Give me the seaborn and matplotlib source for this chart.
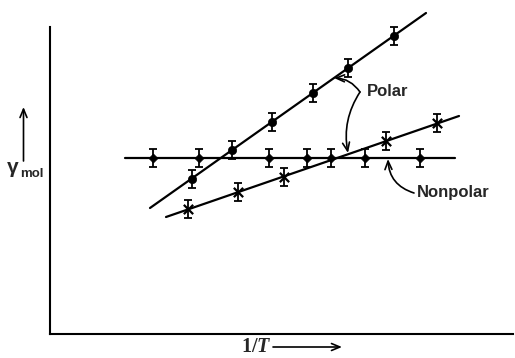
import matplotlib
matplotlib.use("Agg")
import numpy as np
import pandas as pd
import seaborn as sns
import matplotlib.pyplot as plt
from matplotlib.patches import FancyArrowPatch

# ---- data (arbitrary units) ----
nonpolar_x = [103, 149, 219, 257, 281, 315, 370]
nonpolar_y = [176, 176, 176, 176, 176, 176, 176]
nonpolar_line_x = [75, 405]
nonpolar_line_y = [176, 176]

polar_a_x = [142, 182, 222, 263, 298, 344]
polar_a_y = [155, 184, 212, 241, 266, 298]
polar_a_line_x = [100, 376]
polar_a_line_y = [126, 321]

polar_b_x = [138, 188, 234, 336, 387]
polar_b_y = [125, 142, 157, 193, 211]
polar_b_line_x = [116, 409]
polar_b_line_y = [117, 218]

err = 9

sns.set_style("white")
plt.rcParams['font.family'] = ['Liberation Sans', 'DejaVu Sans']
plt.rcParams['mathtext.fontset'] = 'custom'
plt.rcParams['mathtext.rm'] = 'Liberation Serif:bold'
plt.rcParams['mathtext.it'] = 'Liberation Serif:italic:bold'

W, H = 515, 358
fig = plt.figure(figsize=(W / 100, H / 100), dpi=100)
ax = fig.add_axes([50 / W, 24 / H, 465 / W, 334 / H])
ax.set_xlim(0, 465)
ax.set_ylim(0, 334)

lw = 1.6
for lx, ly in [(nonpolar_line_x, nonpolar_line_y),
               (polar_a_line_x, polar_a_line_y),
               (polar_b_line_x, polar_b_line_y)]:
    sns.lineplot(x=lx, y=ly, color="black", lw=lw, ax=ax, legend=False)

for px, py in [(nonpolar_x, nonpolar_y), (polar_a_x, polar_a_y), (polar_b_x, polar_b_y)]:
    ax.errorbar(px, py, yerr=err, fmt="none", ecolor="black", elinewidth=1.3,
                capsize=3, capthick=1.3)

sns.scatterplot(x=nonpolar_x, y=nonpolar_y, marker="D", s=22, color="black",
                edgecolor="black", ax=ax, legend=False, zorder=5)
sns.scatterplot(x=polar_a_x, y=polar_a_y, marker="o", s=36, color="black",
                edgecolor="black", ax=ax, legend=False, zorder=5)
sns.scatterplot(x=polar_b_x, y=polar_b_y, marker="x", s=45, color="black",
                linewidth=1.6, ax=ax, legend=False, zorder=5)

ax.set_xticks([])
ax.set_yticks([])
for s in ["top", "right"]:
    ax.spines[s].set_visible(False)
for s in ["left", "bottom"]:
    ax.spines[s].set_color("black")
    ax.spines[s].set_linewidth(1.5)
ax.spines["left"].set_bounds(0, 307)
ax.spines["bottom"].set_bounds(0, 463)

# labels
ax.text(317, 243, "Polar", fontsize=12, fontweight="bold", va="center", ha="left")
ax.text(367, 142, "Nonpolar", fontsize=12, fontweight="bold", va="center", ha="left")

astyle = "->,head_length=0.6,head_width=0.25"
ap = dict(arrowstyle=astyle, lw=1.2, color="black", shrinkA=0, shrinkB=0,
          mutation_scale=10)
ax.annotate("", xy=(284, 256), xytext=(310, 242),
            arrowprops=dict(ap, connectionstyle="arc3,rad=0.25"))
ax.annotate("", xy=(298, 181), xytext=(310, 242),
            arrowprops=dict(ap, connectionstyle="arc3,rad=0.2"))
ax.annotate("", xy=(338, 175), xytext=(364, 141),
            arrowprops=dict(ap, connectionstyle="arc3,rad=-0.35"))

# y label with arrow
fig.text(7 / W, 1 - 173 / H, "γ", fontsize=15, fontweight="bold", va="baseline", ha="left")
fig.text(20.5 / W, 1 - 177 / H, "mol", fontsize=9.5, fontweight="bold", va="baseline", ha="left")
fig.add_artist(FancyArrowPatch(
    (23.5 / W, 1 - 161 / H), (23.5 / W, 1 - 107 / H), transform=fig.transFigure,
    arrowstyle=astyle, lw=1.2, color="black", shrinkA=0, shrinkB=0,
    mutation_scale=10))

# x label with arrow
fig.text(256 / W, 1 - 347 / H, r"$\mathrm{1/}T$", fontsize=14.5, va="center", ha="center")
fig.add_artist(FancyArrowPatch(
    (273 / W, 1 - 347 / H), (342 / W, 1 - 347 / H), transform=fig.transFigure,
    arrowstyle=astyle, lw=1.2, color="black", shrinkA=0, shrinkB=0,
    mutation_scale=10))

fig.savefig("out.png", dpi=100)
